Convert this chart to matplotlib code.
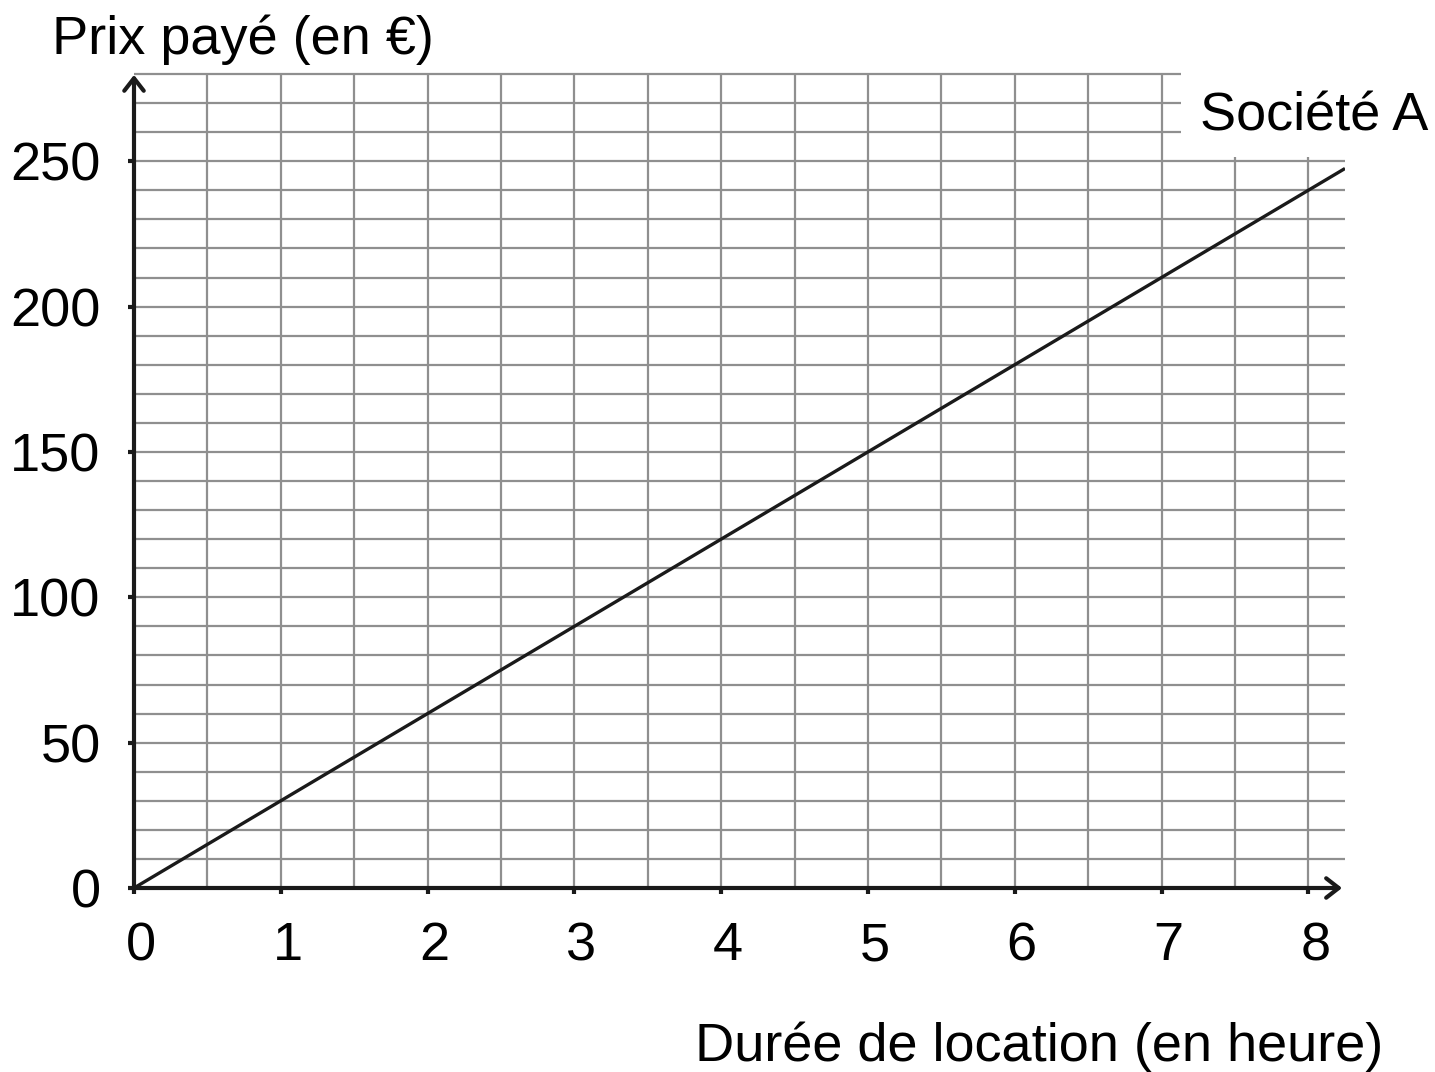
import numpy as np
import matplotlib.pyplot as plt
import matplotlib.transforms as mtransforms

plt.rcParams['font.family'] = ['Liberation Sans', 'DejaVu Sans']

# data
heures = [0, 8.25]
prix = [0, 247.5]
x_ticks = [0, 1, 2, 3, 4, 5, 6, 7, 8]
y_ticks = [0, 50, 100, 150, 200, 250]

grid_col = '#8f8f8f'
fs = 39

fig = plt.figure(figsize=(14.35, 10.72), dpi=100)
ax = fig.add_axes([134 / 1435, 1 - 888 / 1072, 1211 / 1435, 814 / 1072])
ax.set_xlim(0, 8.25)
ax.set_ylim(0, 280)

# grid: every half hour and every 10 euros, cut in the top-right for the label
for xv in np.arange(0.5, 8.01, 0.5):
    top = 251.5 if xv > 7.2 else 280
    ax.vlines(xv, 0, top, color=grid_col, lw=1.6, zorder=1)
for yv in np.arange(10, 281, 10):
    right = 7.13 if yv > 255 else 8.25
    ax.hlines(yv, 0, right, color=grid_col, lw=1.6, zorder=1, clip_on=False)

ax.plot(heures, prix, color='#1a1a1a', lw=2.4, zorder=3, solid_capstyle='butt')

for s in ax.spines.values():
    s.set_visible(False)

# axes with arrow heads
head = dict(arrowstyle='->,head_length=0.9,head_width=0.7',
            lw=3, color='#1a1a1a', shrinkA=0, shrinkB=0)
ax.annotate('', xy=(8.23, 0), xytext=(0, 0), annotation_clip=False, arrowprops=head)
ax.annotate('', xy=(0, 279.7), xytext=(0, 0), annotation_clip=False, arrowprops=head)

ax.set_xticks(x_ticks)
ax.set_yticks(y_ticks)
ax.set_xticklabels([str(v) for v in x_ticks])
ax.set_yticklabels([str(v) for v in y_ticks])
ax.tick_params(axis='both', length=4, width=3, color='#1a1a1a', labelsize=fs)
ax.tick_params(axis='x', pad=20)
ax.tick_params(axis='y', pad=20)

shift = mtransforms.ScaledTranslation(7 / 100, 0, fig.dpi_scale_trans)
for lab in ax.get_xticklabels():
    lab.set_transform(lab.get_transform() + shift)

fig.text(52 / 1435, 1 - 40 / 1072, 'Prix payé (en €)', fontsize=fs, va='center', ha='left')
fig.text(1428 / 1435, 1 - 117 / 1072, 'Société A', fontsize=fs, va='center', ha='right')
fig.text(1383 / 1435, 1 - 1047 / 1072, 'Durée de location (en heure)', fontsize=fs,
         va='center', ha='right')

fig.savefig('out.png', dpi=100, facecolor='white')
